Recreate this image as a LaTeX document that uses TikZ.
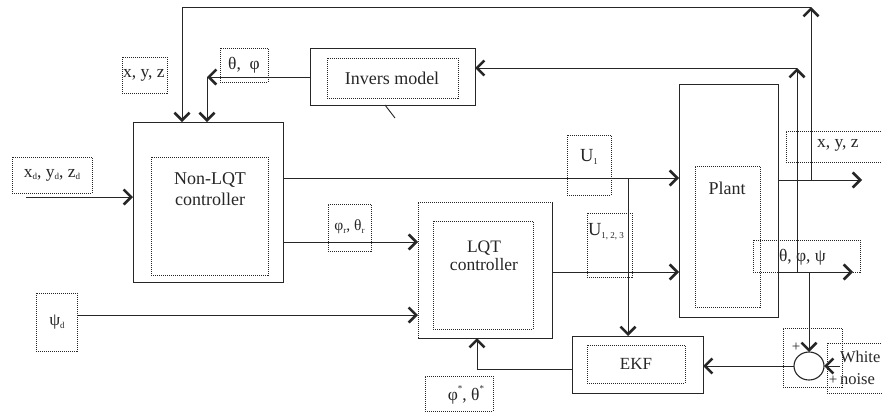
\documentclass[tikz,border=0pt]{standalone}
\usepackage{fontspec}
\setmainfont{Liberation Serif}
\usetikzlibrary{arrows.meta,shapes.geometric}
\newcommand\lowtxt[1]{\raisebox{-0.35ex}{\fontsize{9}{9}\selectfont #1}}
\newcommand\uptxt[1]{\raisebox{1.2ex}{\fontsize{9}{9}\selectfont #1}}
\definecolor{ink}{HTML}{262626}
\begin{document}
\begin{tikzpicture}[x=1pt,y=-1pt,
  every node/.style={inner sep=0pt, outer sep=0pt, text=ink},
  solidbox/.style={draw=ink, line width=0.95pt},
  dotbox/.style={draw=ink, line width=0.8pt, dash pattern=on 1pt off 1pt},
  blank/.style={draw=none},
  conn/.style={draw=ink, line width=0.9pt},
  arr/.style={conn, -{Straight Barb[length=7.5pt,width=15pt,line width=2.6pt]}},
  txt/.style={font=\fontsize{17}{20}\selectfont, align=center},
  lbl/.style={font=\fontsize{17.5}{20}\selectfont}
]
\useasboundingbox (0,0) rectangle (882,413);

% ---------- blocks ----------
\node[solidbox, minimum width=150pt, minimum height=160pt] (nonlqt) at (208,202) {};
\node[dotbox, minimum width=117pt, minimum height=118pt] (nonlqtin) at (209.5,216) {};
\node[txt, font=\fontsize{18}{21}\selectfont] (nonlqtt) at (210,189) {Non-LQT\\controller};

\node[solidbox, minimum width=165pt, minimum height=57pt] (inv) at (392.5,76.5) {};
\node[dotbox, minimum width=131pt, minimum height=40pt] (invin) at (392.5,78) {};
\node[txt, font=\fontsize{18}{21}\selectfont] (invt) at (392,78) {Invers model};

\node[solidbox, minimum width=99pt, minimum height=233pt] (plant) at (728.5,200.5) {};
\node[dotbox, minimum width=65pt, minimum height=141pt] (plantin) at (727.5,236.5) {};
\node[txt, font=\fontsize{18}{21}\selectfont] (plantt) at (727,188) {Plant};

\node[blank, minimum width=134pt, minimum height=136pt] (lqt) at (485,270) {};
\draw[dotbox] (lqt.south west) -- (lqt.north west) -- (lqt.north east);
\draw[solidbox] (lqt.north east) -- (lqt.south east) -- (lqt.south west);
\node[dotbox, minimum width=100pt, minimum height=108pt] (lqtin) at (483,275) {};
\node[txt, font=\fontsize{17.5}{18.5}\selectfont] (lqtt) at (484,256) {LQT\\controller};

\node[solidbox, minimum width=131pt, minimum height=57pt] (ekf) at (637.5,364.5) {};
\node[dotbox, minimum width=98pt, minimum height=38pt] (ekfin) at (636,364) {};
\node[txt, font=\fontsize{17}{20}\selectfont] (ekft) at (636,364) {EKF};

\node[dotbox, minimum width=59pt, minimum height=59pt] (sumbox) at (812.5,357.5) {};
\node[draw=ink, line width=1.1pt, ellipse, minimum width=30pt, minimum height=28pt] (sum) at (809,366) {};
\node[lbl, font=\fontsize{15}{15}\selectfont] (plus1) at (796,347) {+};
\node[lbl, font=\fontsize{15}{15}\selectfont] (plus2) at (833,380) {+};

% ---------- label boxes ----------
\node[dotbox, minimum width=45pt, minimum height=36pt] (xyzl) at (144.5,75) {};
\node[lbl, anchor=west] (xyzlt) at (123,75) {x, y, z};

\node[dotbox, minimum width=48pt, minimum height=34pt] (thph) at (244,65) {};
\node[lbl] (thpht) at (244,65) {θ,\ \ φ};

\node[dotbox, minimum width=80pt, minimum height=36pt] (xd) at (52,175) {};
\node[lbl] (xdt) at (52,175) {x\lowtxt{d}, y\lowtxt{d}, z\lowtxt{d}};

\node[dotbox, minimum width=43pt, minimum height=47pt] (phr) at (349.5,227.5) {};
\node[lbl, font=\fontsize{15.5}{18}\selectfont] (phrt) at (349.5,227) {φ\lowtxt{r}, θ\lowtxt{r}};

\node[dotbox, minimum width=41pt, minimum height=58pt] (psid) at (56.5,322) {};
\node[lbl] (psidt) at (57,322) {ψ\lowtxt{d}};

\node[dotbox, minimum width=44pt, minimum height=60pt] (u1) at (589,165) {};
\node[lbl, font=\fontsize{18.5}{20}\selectfont] (u1t) at (589,157) {U\lowtxt{1}};

\node[dotbox, minimum width=45pt, minimum height=64pt] (u123) at (609.5,245) {};
\node[lbl, font=\fontsize{18.5}{20}\selectfont, anchor=west] (u123t) at (588,232) {U\lowtxt{1, 2, 3}};

\node[dotbox, minimum width=109pt, minimum height=31pt] (xyzr) at (840.5,146.5) {};
\node[lbl, anchor=west] (xyzrt) at (817,145) {x, y, z};

\node[dotbox, minimum width=107pt, minimum height=32pt] (tpp) at (806.5,256) {};
\node[lbl, anchor=west] (tppt) at (779,257) {θ,\ φ, ψ};

\node[dotbox, minimum width=68pt, minimum height=50pt] (wn) at (861,368) {};
\node[lbl, anchor=west, align=left, font=\fontsize{16.5}{22}\selectfont] (wnt) at (840,368) {White\\noise};

\node[dotbox, minimum width=68pt, minimum height=35pt] (phs) at (459,393.5) {};
\node[lbl] (phst) at (466,395) {φ\uptxt{*}, θ\uptxt{*}};

% ---------- connectors ----------
\coordinate (xdin) at (26,197);
\draw[arr] (xdin) -- (xdin -| nonlqt.west);

\coordinate (o1) at (778,180);
\coordinate (o1end) at (862,180);
\draw[arr] (o1) -- (o1end);
\coordinate (o2) at (778,272);
\coordinate (o2end) at (853,272);
\draw[arr] (o2) -- (o2end);

\coordinate (tb) at (811,180);
\coordinate (tr) at (811,7);
\coordinate (tl) at (182,7);
\draw[arr] (tb) -- (tr);
\draw[arr] (tr) -- (tl) -- (tl |- nonlqt.north);

\coordinate (ib) at (797,272);
\coordinate (ir) at (797,68);
\draw[arr] (ib) -- (ir);
\draw[arr] (ir) -- (ir -| inv.east);

\coordinate (tp) at (207,77);
\draw[arr] (inv.west |- tp) -- (tp);
\draw[arr] (tp) -- (tp |- nonlqt.north);

\coordinate (tk1) at (385,105);
\coordinate (tk2) at (395,118);
\draw[conn] (tk1) -- (tk2);

\coordinate (c1) at (283,178);
\draw[arr] (c1) -- (c1 -| plant.west);
\coordinate (u1b) at (628,178);
\draw[arr] (u1b) -- (u1b |- ekf.north);

\coordinate (c2) at (283,242);
\draw[arr] (c2) -- (c2 -| lqt.west);
\coordinate (psin) at (77,315);
\draw[arr] (psin) -- (psin -| lqt.west);
\coordinate (c3) at (552,272);
\draw[arr] (c3) -- (c3 -| plant.west);

\coordinate (sb) at (809,272);
\draw[arr] (sb) -- (sum.north);
\coordinate (wn1) at (840,366);
\draw[arr] (wn1) -- (sum.east);
\draw[arr] (sum.west) -- (sum.west -| ekf.east);

\coordinate (ek) at (477,369);
\draw[arr] (ek -| ekf.west) -- (ek) -- (ek |- lqt.south);
\end{tikzpicture}
\end{document}
